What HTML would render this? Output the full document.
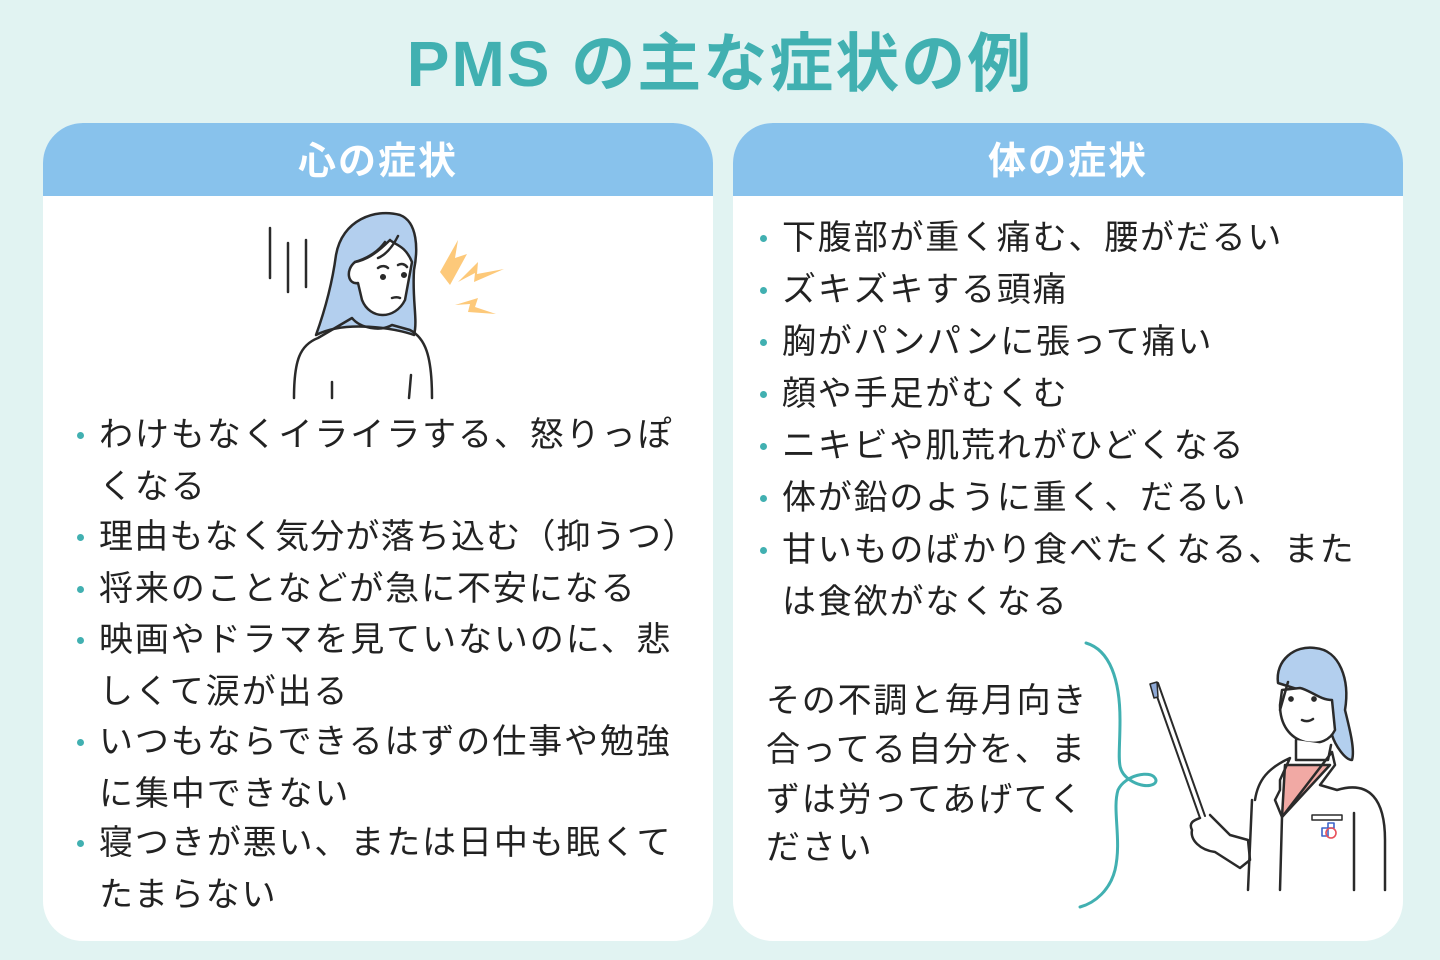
<!DOCTYPE html>
<html><head><meta charset="utf-8"><style>
*{margin:0;padding:0;box-sizing:border-box}
body{width:1440px;height:960px;background:#e1f3f2;position:relative;overflow:hidden;font-family:"Liberation Sans","Noto Sans CJK JP",sans-serif;color:#222}
.title{position:absolute;left:0;width:1440px;top:24px;text-align:center;font-size:64px;font-weight:bold;color:#41b0b1;line-height:80px;letter-spacing:2px}
.card{position:absolute;top:123px;width:670px;height:818px;background:#fff;border-radius:40px;overflow:hidden}
.hd{height:73px;background:#88c2ec;color:#fff;font-size:38px;font-weight:bold;text-align:center;line-height:78px;letter-spacing:2px}
.ln{position:absolute;white-space:nowrap;font-size:34px;line-height:40px}
.L{letter-spacing:1.9px}
.R{letter-spacing:1.8px}
.dot{position:absolute;width:7px;height:7px;border-radius:50%;background:#41b0b1}
</style></head><body>
<div class="title">PMS の主な症状の例</div>
<div class="card" style="left:43px"><div class="hd">心の症状</div></div>
<div class="card" style="left:733px"><div class="hd">体の症状</div></div>

<div class="dot" style="left:77px;top:432px"></div>
<div class="ln L" style="left:99px;top:415px">わけもなくイライラする、怒りっぽ</div>
<div class="ln L" style="left:99px;top:467px">くなる</div>
<div class="dot" style="left:77px;top:534px"></div>
<div class="ln L" style="left:99px;top:517px;letter-spacing:1.2px">理由もなく気分が落ち込む（抑うつ）</div>
<div class="dot" style="left:77px;top:586px"></div>
<div class="ln L" style="left:99px;top:569px">将来のことなどが急に不安になる</div>
<div class="dot" style="left:77px;top:637px"></div>
<div class="ln L" style="left:99px;top:620px">映画やドラマを見ていないのに、悲</div>
<div class="ln L" style="left:99px;top:672px">しくて涙が出る</div>
<div class="dot" style="left:77px;top:739px"></div>
<div class="ln L" style="left:99px;top:722px">いつもならできるはずの仕事や勉強</div>
<div class="ln L" style="left:99px;top:774px">に集中できない</div>
<div class="dot" style="left:77px;top:840px"></div>
<div class="ln L" style="left:99px;top:823px">寝つきが悪い、または日中も眠くて</div>
<div class="ln L" style="left:99px;top:875px">たまらない</div>

<div class="dot" style="left:760px;top:235px"></div>
<div class="ln R" style="left:782px;top:218px">下腹部が重く痛む、腰がだるい</div>
<div class="dot" style="left:760px;top:287px"></div>
<div class="ln R" style="left:782px;top:270px">ズキズキする頭痛</div>
<div class="dot" style="left:760px;top:339px"></div>
<div class="ln R" style="left:782px;top:322px">胸がパンパンに張って痛い</div>
<div class="dot" style="left:760px;top:391px"></div>
<div class="ln R" style="left:782px;top:374px">顔や手足がむくむ</div>
<div class="dot" style="left:760px;top:443px"></div>
<div class="ln R" style="left:782px;top:426px">ニキビや肌荒れがひどくなる</div>
<div class="dot" style="left:760px;top:495px"></div>
<div class="ln R" style="left:782px;top:478px">体が鉛のように重く、だるい</div>
<div class="dot" style="left:760px;top:547px"></div>
<div class="ln R" style="left:782px;top:530px">甘いものばかり食べたくなる、また</div>
<div class="ln R" style="left:782px;top:582px">は食欲がなくなる</div>

<div class="ln" style="left:766px;top:681px;letter-spacing:1.8px">その不調と毎月向き</div>
<div class="ln" style="left:766px;top:730px;letter-spacing:1.8px">合ってる自分を、ま</div>
<div class="ln" style="left:766px;top:780px;letter-spacing:1.8px">ずは労ってあげてく</div>
<div class="ln" style="left:766px;top:828px;letter-spacing:1.8px">ださい</div>

<svg width="1440" height="960" style="position:absolute;left:0;top:0" fill="none" stroke="#2a2a2a" stroke-width="2.5" stroke-linecap="round" stroke-linejoin="round">
<path d="M270 228V278M288 243V292M306 240V287"/>
<path d="M316 335C325 310 332 285 336 255C342 220 375 208 400 215C418 222 418 250 414 270C412 300 418 320 414 335C395 328 345 320 316 335Z" fill="#b3cfee"/>
<path d="M355 262C345 270 348 285 358 283L362 300C370 320 395 320 405 300L412 262C405 245 395 245 390 240C375 255 365 260 355 262Z" fill="#fff"/>
<path d="M385 242C378 252 368 258 355 262M398 236C392 248 385 255 378 258"/>
<circle cx="383" cy="277" r="1.8" fill="#2a2a2a"/><circle cx="404" cy="275" r="1.8" fill="#2a2a2a"/>
<path d="M378 268C382 265 386 266 388 268M398 265C401 263 405 264 407 267M392 298C395 297 398 297 400 298"/>
<path d="M294 398C294 360 300 345 318 338L352 318C360 328 380 332 392 325L410 330C425 338 432 355 432 398M332 382V398M411 375L409 398"/>
<path d="M440 272L458 240L455 258L467 254L450 285ZM458 282L478 262L477 274L504 269L474 282L475 273ZM455 305L478 298L475 307L496 314L468 312L470 304Z" fill="#fdc97a" stroke="none"/>
<path d="M1086 643C1110 650 1120 680 1120 720C1120 760 1115 770 1130 780C1145 790 1160 785 1155 778C1150 770 1125 775 1118 790C1112 810 1122 840 1115 870C1110 890 1095 903 1080 907" stroke="#41b0b1" stroke-width="3"/>
<path d="M1153 685L1200 818M1158 683L1205 816" stroke-width="2"/>
<path d="M1150 684L1154 698L1158 697L1157 682Z" fill="#8ea9d6" stroke-width="1.5"/>
<path d="M1278 683C1275 660 1295 645 1315 648C1340 650 1350 680 1345 710C1350 730 1355 750 1352 760C1345 760 1335 745 1332 735L1300 690Z" fill="#b3cfee"/>
<path d="M1282 690L1300 688C1310 690 1320 700 1332 700L1335 730C1330 740 1320 745 1305 742C1290 738 1280 725 1280 705Z" fill="#fff"/>
<path d="M1288 682L1280 710"/>
<circle cx="1291" cy="699" r="1.6" fill="#2a2a2a"/><circle cx="1314" cy="699" r="1.6" fill="#2a2a2a"/>
<path d="M1302 720C1306 722 1310 721 1313 719"/>
<path d="M1296 740L1296 760L1328 760L1331 745" fill="#fff"/>
<path d="M1285 765L1330 765L1282 817Z" fill="#f1a9a4"/>
<path d="M1255 800C1258 780 1268 768 1290 758L1280 780L1280 790L1275 800L1282 817L1332 752L1335 765L1320 785L1337 790C1370 780 1385 800 1385 840V890M1252 800L1248 890M1282 817L1280 890M1354 813V890"/>
<path d="M1200 818C1195 820 1188 822 1192 830C1190 840 1200 850 1215 852L1240 868L1250 860L1248 840L1230 835L1210 815"/>
<rect x="1312" y="815" width="30" height="5" stroke-width="1.5"/>
<path d="M1322 828h6v-5h6v5h-6v8h-6v-8" stroke="#3d63c8" stroke-width="1.6"/>
<circle cx="1331" cy="833" r="5" stroke="#e8505a" stroke-width="1.6"/>
</svg>
</body></html>
